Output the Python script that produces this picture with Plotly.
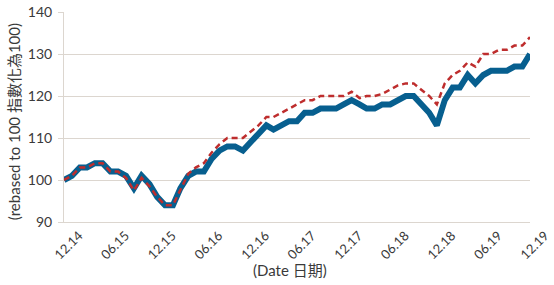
import pandas as pd
import plotly.graph_objects as go

dates = pd.date_range("2014-12-01", "2019-12-01", freq="MS")

blue_values = [100, 101, 103, 103, 104, 104, 102, 102, 101, 98,
               101, 99, 96, 94, 94, 98, 101, 102, 102, 105,
               107, 108, 108, 107, 109, 111, 113, 112, 113, 114,
               114, 116, 116, 117, 117, 117, 118, 119, 118, 117,
               117, 118, 118, 119, 120, 120, 118, 116, 113, 119,
               122, 122, 125, 123, 125, 126, 126, 126, 127, 127,
               130]

red_values = [100, 101, 103, 103, 104, 104, 102, 102, 100.5, 97.5,
              100.5, 98.5, 96, 94, 94, 97.5, 101.5, 103, 104, 106.5,
              108.5, 110, 110, 110, 111.5, 113, 115, 115, 116, 117,
              118, 119, 119, 120, 120, 120, 120, 121, 119.5, 120,
              120, 120.5, 121.5, 122.5, 123, 123, 121.5, 120, 118, 123,
              125, 126, 128, 127, 130, 130, 131, 131, 132, 132,
              134]

tick_dates = ["2014-12-01", "2015-06-01", "2015-12-01", "2016-06-01", "2016-12-01",
              "2017-06-01", "2017-12-01", "2018-06-01", "2018-12-01", "2019-06-01",
              "2019-12-01"]
tick_labels = ["12.14", "06.15", "12.15", "06.16", "12.16", "06.17", "12.17",
               "06.18", "12.18", "06.19", "12.19"]

x_title = "(Date 日期)"
y_title = "(rebased to 100 指數化為100)"

fig = go.Figure()
fig.add_trace(go.Scatter(x=dates, y=blue_values, mode="lines",
                         line=dict(color="#075f8f", width=6), showlegend=False))
fig.add_trace(go.Scatter(x=dates, y=red_values, mode="lines",
                         line=dict(color="#be2d2d", width=2.5, dash="6px,4px"), showlegend=False))

grid = "#dcd6cf"
txt = "#3a3a3a"
fig.update_layout(
    width=554, height=285,
    margin=dict(l=64, r=24, t=12, b=63),
    paper_bgcolor="white", plot_bgcolor="white",
    font=dict(family="Lato, Noto Sans CJK TC, sans-serif", color=txt),
    annotations=[
        dict(text=x_title, xref="paper", yref="paper", x=0.485, y=-0.229,
             showarrow=False, font=dict(size=15), xanchor="center", yanchor="middle"),
        dict(text=y_title, xref="paper", yref="paper", x=-0.107, y=0.476,
             showarrow=False, font=dict(size=15), textangle=-90,
             xanchor="center", yanchor="middle"),
    ],
)
fig.update_xaxes(
    range=["2014-12-01", "2019-12-01"], automargin=False,
    tickvals=tick_dates, ticktext=tick_labels, tickangle=-45,
    tickfont=dict(size=13), ticklabelshift=15,
    showgrid=False, zeroline=False,
    showline=True, linecolor=grid, linewidth=1,
)
fig.update_yaxes(
    range=[90, 140], dtick=10, tickfont=dict(size=14), automargin=False,
    showgrid=True, gridcolor=grid, gridwidth=1, zeroline=False,
    showline=True, linecolor=grid, linewidth=1,
    ticks="outside", ticklen=5, tickcolor=grid, ticklabelstandoff=3,
)

fig.write_html("out.html", config={"displayModeBar": False},
               post_script="document.body.style.margin='0px';")
